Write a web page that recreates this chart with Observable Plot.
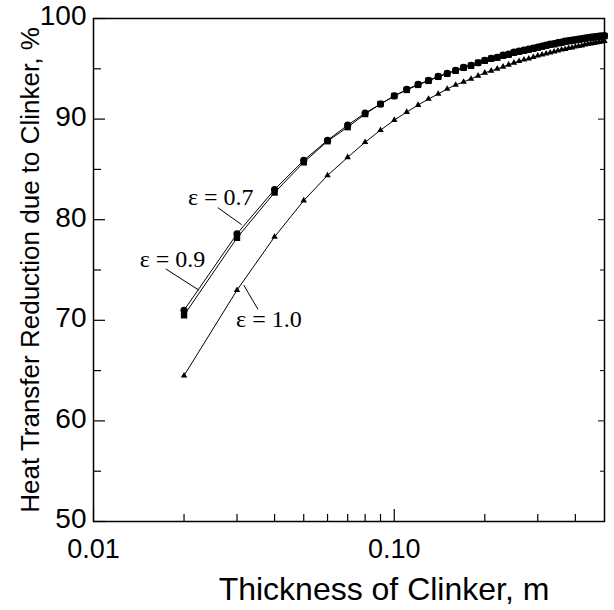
<!DOCTYPE html>
<html>
<head>
<meta charset="utf-8">
<script src="https://cdn.jsdelivr.net/npm/d3@7"></script>
<script src="https://cdn.jsdelivr.net/npm/@observablehq/plot@0.6"></script>
<style>
  html, body { margin: 0; padding: 0; background: #fff; }
  #chart svg { display: block; }
</style>
</head>
<body>
<div id="chart"></div>
<script>
// Thickness of clinker (m)
const thickness = [0.02,0.03,0.04,0.05,0.06,0.07,0.08,0.09,0.10,
  0.11,0.12,0.13,0.14,0.15,0.16,0.17,0.18,0.19,0.20,
  0.21,0.22,0.23,0.24,0.25,0.26,0.27,0.28,0.29,0.30,
  0.31,0.32,0.33,0.34,0.35,0.36,0.37,0.38,0.39,0.40,
  0.41,0.42,0.43,0.44,0.45,0.46,0.47,0.48,0.49,0.50];

// Heat transfer reduction (%), epsilon = 0.7
const eps07 = [71.0,78.6,83.0,85.9,87.9,89.4,90.6,91.5,92.3,
  92.95,93.45,93.85,94.25,94.55,94.85,95.15,95.35,95.6,95.85,
  96.05,96.15,96.35,96.45,96.65,96.75,96.85,96.95,97.05,97.15,
  97.25,97.35,97.45,97.5,97.6,97.65,97.75,97.8,97.85,97.9,
  97.95,98.0,98.05,98.1,98.15,98.18,98.2,98.25,98.28,98.3];

// epsilon = 0.9
const eps09 = [70.5,78.2,82.7,85.7,87.8,89.2,90.5,91.5,92.3,
  92.9,93.4,93.8,94.2,94.5,94.8,95.1,95.3,95.6,95.8,
  96.0,96.1,96.3,96.4,96.6,96.7,96.8,96.9,97.0,97.1,
  97.2,97.3,97.4,97.45,97.55,97.6,97.7,97.75,97.8,97.85,
  97.9,97.95,98.0,98.05,98.1,98.12,98.15,98.2,98.22,98.25];

// epsilon = 1.0
const eps10 = [64.5,73.0,78.3,81.9,84.4,86.2,87.7,88.9,89.9,
  90.7,91.4,92.0,92.5,93.0,93.4,93.7,94.0,94.3,94.6,
  94.8,95.0,95.2,95.4,95.6,95.75,95.9,96.0,96.15,96.3,
  96.4,96.5,96.6,96.7,96.8,96.9,96.95,97.05,97.1,97.2,
  97.25,97.3,97.4,97.45,97.5,97.55,97.6,97.65,97.7,97.75];

// Axis ticks
const xMajor = [0.01, 0.1];
const xMajorLabels = ["0.01", "0.10"];
const xMinor = [0.02,0.03,0.04,0.05,0.06,0.07,0.08,0.09,0.2,0.3,0.4];
const yMajor = [50,60,70,80,90,100];
const yMinor = [55,65,75,85,95];

// Curve annotations (label text and anchor in data units)
const labelText = ["ε = 0.7", "ε = 0.9", "ε = 1.0"];
const labelX = [0.0265, 0.0183, 0.0383];
const labelY = [82.2, 76.1, 70.1];
const leaderX1 = [0.0259, 0.0174, 0.0316];
const leaderY1 = [81.2, 75.1, 73.5];
const leaderX2 = [0.0311, 0.0224, 0.0352];
const leaderY2 = [79.5, 73.0, 71.1];

const W = 614, H = 610;
const mL = 93, mR = 10, mT = 18, mB = 89;
const frameW = W - mL - mR, frameH = H - mT - mB;

const rows = (ys) => thickness.map((x, i) => ({x, y: ys[i]}));
const s07 = rows(eps07), s09 = rows(eps09), s10 = rows(eps10);
const labels = labelText.map((t, i) => ({t, x: labelX[i], y: labelY[i]}));
const leaders = labelText.map((t, i) => ({x1: leaderX1[i], y1: leaderY1[i], x2: leaderX2[i], y2: leaderY2[i]}));

const sans = "Liberation Sans, Arial, Helvetica, sans-serif";
const serif = "Liberation Serif, Times New Roman, serif";

const chart = Plot.plot({
  width: W, height: H,
  marginLeft: mL, marginRight: mR, marginTop: mT, marginBottom: mB,
  style: {fontFamily: sans, color: "#000", background: "#fff"},
  x: {type: "log", domain: [0.01, 0.5], axis: null},
  y: {domain: [50, 100], axis: null},
  marks: [
    Plot.frame({stroke: "#000", strokeWidth: 1.5}),
    // y ticks (inward) on left and right
    Plot.tickY(yMajor, {y: d => d, stroke: "#000", strokeWidth: 1.2, insetRight: frameW - 12}),
    Plot.tickY(yMinor, {y: d => d, stroke: "#000", strokeWidth: 1.2, insetRight: frameW - 8}),
    Plot.tickY(yMajor, {y: d => d, stroke: "#000", strokeWidth: 1, insetLeft: frameW - 6}),
    Plot.tickY(yMinor, {y: d => d, stroke: "#000", strokeWidth: 1, insetLeft: frameW - 4}),
    // x ticks (inward)
    Plot.tickX(xMajor, {x: d => d, stroke: "#000", strokeWidth: 1.2, insetTop: frameH - 12}),
    Plot.tickX(xMinor, {x: d => d, stroke: "#000", strokeWidth: 1.2, insetTop: frameH - 7}),
    // axis tick labels
    Plot.text(yMajor, {y: d => d, text: d => String(d), frameAnchor: "left", dx: -7, dy: -2, textAnchor: "end", fontSize: 28, fill: "#000"}),
    Plot.text(xMajor, {x: d => d, text: (d, i) => xMajorLabels[i], frameAnchor: "bottom", dy: 36, fontSize: 27, fill: "#000"}),
    // series
    Plot.line(s10, {x: "x", y: "y", stroke: "#000", strokeWidth: 1}),
    Plot.dot(s10, {x: "x", y: "y", symbol: "triangle", r: 2.4, fill: "#000"}),
    Plot.line(s07, {x: "x", y: "y", stroke: "#000", strokeWidth: 1}),
    Plot.line(s09, {x: "x", y: "y", stroke: "#000", strokeWidth: 1}),
    Plot.dot(s07, {x: "x", y: "y", symbol: "circle", r: 3.6, fill: "#000"}),
    Plot.dot(s09, {x: "x", y: "y", symbol: "square", r: 3.6, fill: "#000"}),
    // annotations
    Plot.link(leaders, {x1: "x1", y1: "y1", x2: "x2", y2: "y2", stroke: "#000", strokeWidth: 1}),
    Plot.text(labels, {x: "x", y: "y", text: "t", fontSize: 24, fontFamily: serif, fill: "#000"}),
    // axis titles
    Plot.text(["Thickness of Clinker, m"], {frameAnchor: "bottom", textAnchor: "middle", dx: 35, dy: 78, fontSize: 32, fill: "#000"}),
    Plot.text(["Heat Transfer Reduction due to Clinker, %"], {frameAnchor: "left", textAnchor: "middle", dx: -63, rotate: -90, fontSize: 26, fill: "#000"})
  ]
});
document.getElementById("chart").appendChild(chart);
</script>
</body>
</html>
